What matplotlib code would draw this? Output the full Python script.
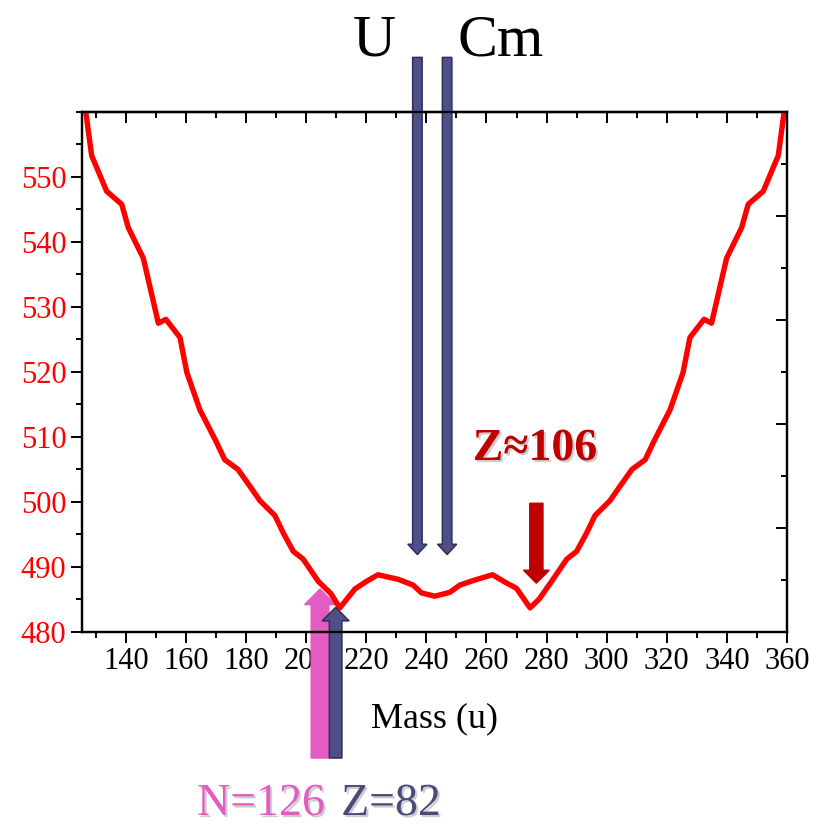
import matplotlib
matplotlib.use("Agg")
import matplotlib.pyplot as plt
import matplotlib.patheffects as pe
from matplotlib.patches import FancyArrow
from matplotlib.ticker import MultipleLocator

plt.rcParams['font.family'] = ['Liberation Serif', 'DejaVu Serif']

# curve (mass in u, energy)
mass = [126.5, 128.6, 133.6, 138.6, 140.8, 145.8, 150.8, 153.3, 158.0, 160.3,
        164.6, 169.8, 172.9, 177.3, 181.0, 184.6, 189.6, 192.4, 195.7, 199.0,
        204.0, 208.2, 211.2, 216.2, 220.1, 223.9, 230.6, 235.6, 238.4, 242.8,
        247.8, 251.1, 255.5, 262.0, 266.4, 270.0, 274.5, 277.6, 281.7, 286.7,
        290.0, 293.3, 296.1, 301.1, 304.7, 308.4, 312.8, 315.9, 321.1, 325.4,
        327.7, 332.4, 334.9, 339.9, 344.9, 347.1, 352.1, 357.1, 359.2]
energy = [560.5, 553.3, 547.8, 545.8, 542.2, 537.5, 527.5, 528.1, 525.3, 519.9,
          514.2, 509.5, 506.5, 505.0, 502.6, 500.2, 497.9, 495.2, 492.4, 491.2,
          487.8, 485.9, 483.7, 486.6, 487.8, 488.8, 488.1, 487.2, 486.0, 485.5,
          486.1, 487.2, 487.9, 488.8, 487.6, 486.7, 483.7, 485.1, 487.8, 491.2,
          492.4, 495.2, 497.9, 500.2, 502.6, 505.0, 506.5, 509.5, 514.2, 519.9,
          525.3, 528.1, 527.5, 537.5, 542.2, 545.8, 547.8, 553.3, 560.5]

# arrows: (mass, tail, tip)
u_arrow = (237.0, 568.4, 491.9)
cm_arrow = (246.9, 568.4, 491.9)
n126_arrow = (204.6, 460.6, 486.6)
z82_arrow = (209.8, 460.6, 483.8)
z106_arrow = (276.6, 499.8, 487.5)

navy = '#4d4f86'
navy_edge = '#2a2b55'
pink = '#e25cc2'
dark_red = '#c00000'

fig = plt.figure(figsize=(8.18, 8.25), dpi=100)
ax = fig.add_axes([0.0999, 0.234, 0.8622, 0.6303])

ax.plot(mass, energy, color='#ff0000', lw=3.9, zorder=3)

ax.set_xlim(125.3, 360)
ax.set_ylim(480, 560)
ax.set_xticks(range(140, 361, 20))
ax.xaxis.set_minor_locator(MultipleLocator(10))
ax.set_yticks(range(480, 551, 10))
ax.yaxis.set_minor_locator(MultipleLocator(5))

for s in ax.spines.values():
    s.set_linewidth(1.6)
ax.tick_params(which='major', direction='out', length=8, width=1.4, labelsize=22, pad=3)
ax.tick_params(which='minor', direction='out', length=4.5, width=1.4)
ax.tick_params(axis='y', labelcolor='#ff0000')
ax.set_xlabel('Mass (u)', fontsize=26, labelpad=19)

# top axis, ticks inside
top = ax.secondary_xaxis('top')
top.xaxis.set_major_locator(MultipleLocator(20))
top.xaxis.set_minor_locator(MultipleLocator(10))
top.tick_params(which='major', direction='in', length=8, width=1.4, labeltop=False)
top.tick_params(which='minor', direction='in', length=4.5, width=1.4)
top.spines['top'].set_linewidth(1.6)

# right axis, own scale, ticks inside
right = ax.twinx()
right.set_ylim(0, 10)
right.yaxis.set_major_locator(MultipleLocator(2))
right.yaxis.set_minor_locator(MultipleLocator(1))
right.tick_params(which='major', direction='in', length=8, width=1.4, labelright=False)
right.tick_params(which='minor', direction='in', length=4.5, width=1.4)
for s in right.spines.values():
    s.set_linewidth(1.6)


def vert_arrow(x, tail, tip, w, hw, hl, fc, ec, z):
    a = FancyArrow(x, tail, 0, tip - tail, width=w, head_width=hw, head_length=hl,
                   length_includes_head=True, fc=fc, ec=ec, lw=1.0,
                   clip_on=False, zorder=z)
    ax.add_patch(a)


vert_arrow(*u_arrow, 3.2, 6.4, 1.6, navy, navy_edge, 4)
vert_arrow(*cm_arrow, 3.2, 6.4, 1.6, navy, navy_edge, 4)
vert_arrow(*n126_arrow, 5.9, 10.3, 2.4, pink, pink, 2)
vert_arrow(*z82_arrow, 4.2, 9.0, 2.1, navy, navy_edge, 4)
vert_arrow(*z106_arrow, 4.4, 8.6, 2.0, dark_red, dark_red, 4)

shadow = [pe.SimplePatchShadow(offset=(1.5, -1.5), shadow_rgbFace='#909090', alpha=0.45),
          pe.Normal()]

fig.text(374 / 818, 1 - 55 / 825, 'U', fontsize=43, ha='center', va='baseline')
fig.text(501 / 818, 1 - 55 / 825, 'Cm', fontsize=43, ha='center', va='baseline')
fig.text(535 / 818, 1 - 460 / 825, 'Z≈106', fontsize=33, fontweight='bold',
         color=dark_red, ha='center', va='baseline', path_effects=shadow)
fig.text(261 / 818, 1 - 815 / 825, 'N=126', fontsize=33, color=pink,
         ha='center', va='baseline', path_effects=shadow)
fig.text(391 / 818, 1 - 815 / 825, 'Z=82', fontsize=33, color='#4a4a7c',
         ha='center', va='baseline', path_effects=shadow)

fig.savefig('out.png', dpi=100)
